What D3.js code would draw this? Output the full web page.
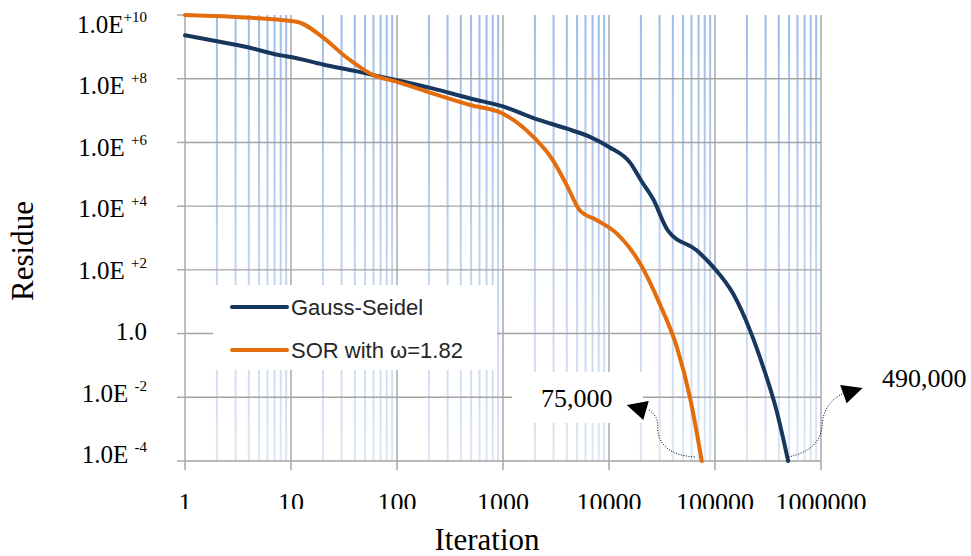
<!DOCTYPE html>
<html>
<head>
<meta charset="utf-8">
<script src="https://cdn.jsdelivr.net/npm/d3@7"></script>
<style>
  body { margin: 0; background: #fff; }
  svg { display: block; }
  text { white-space: pre; }
</style>
</head>
<body>
<svg id="chart" width="971" height="556"></svg>
<script>
// values
const xTicks = [1, 10, 100, 1000, 10000, 100000, 1000000];
const yTicks = [1e10, 1e8, 1e6, 1e4, 1e2, 1, 1e-2, 1e-4];
const yTickBase = ['1.0E', '1.0E ', '1.0E ', '1.0E ', '1.0E ', '1.0', '1.0E ', '1.0E '];
const yTickSup = ['+10', '+8', '+6', '+4', '+2', '', '-2', '-4'];

const gsIter = [1, 2, 4, 8, 10, 20, 42, 60, 100, 220, 490, 1000, 2000, 4000, 6600,
  10000, 16000, 20000, 26000, 36000, 67000, 97000, 148000, 214000, 285000, 380000, 490000];
const gsResid = [2.3e9, 1.5e9, 9.5e8, 5.4e8, 4.8e8, 2.8e8, 1.7e8, 1.3e8, 9e7, 4.9e7, 2.4e7, 1.35e7,
  5.6e6, 2.7e6, 1.5e6, 7.2e5, 2.2e5, 6.5e4, 1.7e4, 1.7e3, 4.1e2, 1.2e2, 18, 1.26, 0.089, 0.0039, 1e-4];

const sorIter = [1, 11, 20, 33, 60, 100, 220, 490, 1000, 1930, 2950, 4000, 5300, 7700,
  11800, 19600, 30000, 43600, 58000, 75000];
const sorResid = [1e10, 6.3e9, 2.0e9, 4.8e8, 1.3e8, 8e7, 3.4e7, 1.5e7, 8e6, 1.5e6, 2.8e5, 4.5e4,
  7.4e3, 3.6e3, 1.4e3, 1.6e2, 8.7, 0.38, 0.01, 1e-4];

const seriesNames = ['Gauss-Seidel', 'SOR with \u03c9=1.82'];
const seriesColors = ['#17375e', '#e46c0a'];
const endLabels = ['490,000', '75,000'];

// layout
const plot = {left: 185, right: 821, top: 15, bottom: 461};
const serif = '"Liberation Serif", "Times New Roman", serif';
const sans = '"Liberation Sans", Arial, sans-serif';

const svg = d3.select('#chart');
svg.append('rect').attr('width', 971).attr('height', 556).attr('fill', '#fff');

const x = d3.scaleLog().domain([1, 1e6]).range([plot.left, plot.right]);
const y = d3.scaleLog().domain([1e-4, 1e10]).range([plot.bottom, plot.top]);
// tick labels sit in an evenly spaced text column, a little tighter than the grid
const yLab = d3.scaleLog().domain([1e-4, 1e10]).range([463, 33]);

const defs = svg.append('defs');
const grad = defs.append('linearGradient')
  .attr('id', 'minorFade')
  .attr('gradientUnits', 'userSpaceOnUse')
  .attr('x1', 0).attr('y1', plot.top).attr('x2', 0).attr('y2', plot.bottom);
grad.append('stop').attr('offset', 0).attr('stop-color', '#9dbbe9');
grad.append('stop').attr('offset', 1).attr('stop-color', '#dde6f5');

defs.append('clipPath').attr('id', 'xLabClip')
  .append('rect').attr('x', 0).attr('y', 470).attr('width', 971).attr('height', 39);

// minor vertical grid (2..9 of every decade)
const minor = x.ticks().filter(v => Math.abs(Math.log10(v) - Math.round(Math.log10(v))) > 1e-9);
svg.append('g')
  .selectAll('line')
  .data(minor)
  .join('line')
  .attr('x1', d => x(d)).attr('x2', d => x(d))
  .attr('y1', plot.top).attr('y2', plot.bottom)
  .attr('stroke', 'url(#minorFade)')
  .attr('stroke-width', 2);

// major grid
const grid = svg.append('g').attr('stroke', '#a3a3a3').attr('stroke-width', 1.4);
grid.selectAll('line.v')
  .data(xTicks)
  .join('line')
  .attr('class', 'v')
  .attr('x1', d => x(d)).attr('x2', d => x(d))
  .attr('y1', plot.top).attr('y2', plot.bottom);
grid.selectAll('line.h')
  .data(yTicks.filter(v => v < 1e10))
  .join('line')
  .attr('class', 'h')
  .attr('x1', plot.left).attr('x2', plot.right)
  .attr('y1', d => y(d)).attr('y2', d => y(d));

// axis ticks
grid.selectAll('line.yt')
  .data(yTicks)
  .join('line')
  .attr('class', 'yt')
  .attr('x1', plot.left - 8).attr('x2', plot.left)
  .attr('y1', d => y(d)).attr('y2', d => y(d));
grid.selectAll('line.xt')
  .data(xTicks)
  .join('line')
  .attr('class', 'xt')
  .attr('x1', d => x(d)).attr('x2', d => x(d))
  .attr('y1', plot.bottom).attr('y2', plot.bottom + 9);

// white boxes behind legend and the 75,000 label
svg.append('rect').attr('x', 213).attr('y', 285).attr('width', 284).attr('height', 85).attr('fill', '#fff');
svg.append('rect').attr('x', 512).attr('y', 372).attr('width', 131).attr('height', 51).attr('fill', '#fff');

// y tick labels
const yl = svg.append('g')
  .attr('font-family', serif)
  .attr('font-size', 25)
  .attr('fill', '#000')
  .attr('text-anchor', 'end');
yTicks.forEach((v, i) => {
  const t = yl.append('text').attr('x', 147).attr('y', yLab(v));
  t.append('tspan').text(yTickBase[i]);
  if (yTickSup[i]) {
    t.append('tspan').attr('dy', -11).attr('font-size', 15).text(yTickSup[i]);
  }
});

// x tick labels (bottom clipped as in the original)
svg.append('g')
  .attr('clip-path', 'url(#xLabClip)')
  .attr('font-family', serif)
  .attr('font-size', 26)
  .attr('text-anchor', 'middle')
  .selectAll('text')
  .data(xTicks)
  .join('text')
  .attr('x', d => x(d))
  .attr('y', 511)
  .text(d => d3.format('d')(d));

// axis titles
svg.append('text')
  .attr('transform', 'translate(33,251) rotate(-90)')
  .attr('text-anchor', 'middle')
  .attr('font-family', serif)
  .attr('font-size', 31)
  .text('Residue');
svg.append('text')
  .attr('x', 487).attr('y', 550)
  .attr('text-anchor', 'middle')
  .attr('font-family', serif)
  .attr('font-size', 31)
  .text('Iteration');

// series
const line = d3.line()
  .x(d => x(d[0]))
  .y(d => y(d[1]))
  .curve(d3.curveMonotoneX);
const series = [d3.zip(gsIter, gsResid), d3.zip(sorIter, sorResid)];
svg.append('g')
  .selectAll('path')
  .data(series)
  .join('path')
  .attr('d', line)
  .attr('fill', 'none')
  .attr('stroke', (d, i) => seriesColors[i])
  .attr('stroke-width', 4)
  .attr('stroke-linejoin', 'round')
  .attr('stroke-linecap', 'round');

// legend
const legend = svg.append('g');
seriesNames.forEach((name, i) => {
  const ly = 307 + i * 43;
  legend.append('line')
    .attr('x1', 232).attr('x2', 287)
    .attr('y1', ly).attr('y2', ly)
    .attr('stroke', seriesColors[i])
    .attr('stroke-width', 4)
    .attr('stroke-linecap', 'round');
  legend.append('text')
    .attr('x', 291).attr('y', ly + 8)
    .attr('font-family', sans)
    .attr('font-size', 22)
    .attr('fill', '#262626')
    .text(name);
});

// end-point annotations with dotted curved arrows
const gsEnd = [x(gsIter[gsIter.length - 1]), y(gsResid[gsResid.length - 1])];
const sorEnd = [x(sorIter[sorIter.length - 1]), y(sorResid[sorResid.length - 1])];

function arrow(ex, ey, s, tri) {
  const p = d3.path();
  p.moveTo(ex + s[0], ey + s[1]);
  p.bezierCurveTo(ex + s[2], ey + s[3], ex + s[4], ey + s[5], ex + s[6], ey + s[7]);
  p.bezierCurveTo(ex + s[8], ey + s[9], ex + s[10], ey + s[11], ex + s[12], ey + s[13]);
  svg.append('path')
    .attr('d', p.toString())
    .attr('fill', 'none')
    .attr('stroke', '#000')
    .attr('stroke-width', 1)
    .attr('stroke-dasharray', '1,1.6');
  svg.append('path')
    .attr('d', d3.line()(tri.map(t => [ex + t[0], ey + t[1]])) + 'Z')
    .attr('fill', '#000');
}

arrow(sorEnd[0], sorEnd[1],
  [-7, -4, -37, -6, -45, -21, -44, -36, -44, -43, -48, -48, -54, -52],
  [[-75, -56], [-53, -60], [-58.5, -41]]);
arrow(gsEnd[0], gsEnd[1],
  [0, -4, 24, -9, 33, -21, 34, -36, 35, -51, 42, -61, 54, -67],
  [[52, -76], [74.5, -73], [58.5, -57.7]]);

svg.append('text')
  .attr('x', 541).attr('y', 407)
  .attr('font-family', serif).attr('font-size', 26)
  .text(endLabels[1]);
svg.append('text')
  .attr('x', 882).attr('y', 387)
  .attr('font-family', serif).attr('font-size', 26)
  .text(endLabels[0]);
</script>
</body>
</html>
